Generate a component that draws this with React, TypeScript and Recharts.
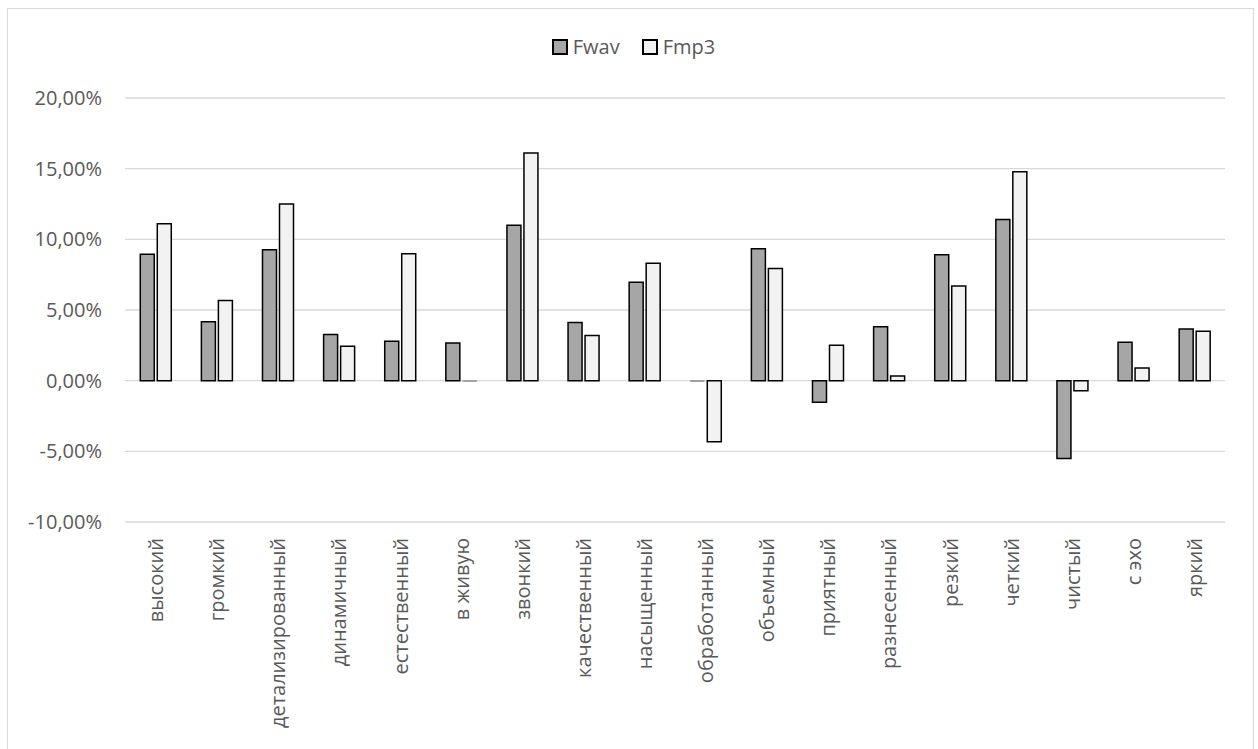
import React from 'react';
import { BarChart, Bar, XAxis, YAxis, CartesianGrid, Legend, Cell } from 'recharts';

const categories = [
  'высокий', 'громкий', 'детализированный', 'динамичный', 'естественный', 'в живую',
  'звонкий', 'качественный', 'насыщенный', 'обработанный', 'объемный', 'приятный',
  'разнесенный', 'резкий', 'четкий', 'чистый', 'с эхо', 'яркий',
];

const fwav = [0.0894, 0.0416, 0.0927, 0.0326, 0.0279, 0.0267, 0.1099, 0.0411, 0.0697, -0.0005, 0.0934, -0.0153, 0.0381, 0.0891, 0.114, -0.055, 0.0272, 0.0365];
const fmp3 = [0.1111, 0.0567, 0.125, 0.0243, 0.0898, -0.0005, 0.161, 0.032, 0.083, -0.0433, 0.0794, 0.0251, 0.0033, 0.0669, 0.1478, -0.0071, 0.009, 0.035];

const yTicks = [-0.1, -0.05, 0, 0.05, 0.1, 0.15, 0.2];

const data = categories.map((c, i) => ({ name: c, Fwav: fwav[i], Fmp3: fmp3[i] }));

const FONT = '"Open Sans", "Liberation Sans", sans-serif';
const TEXT = '#595959';

const fmt = (v: number) => (v * 100).toFixed(2).replace('.', ',') + '%';

const XTick = (props: any) => {
  const { x, y, payload } = props;
  const ty = y + 8;
  return (
    <text
      x={x}
      y={ty}
      transform={`rotate(-90 ${x} ${ty})`}
      textAnchor="end"
      dominantBaseline="central"
      fill={TEXT}
      fontSize={20}
      fontFamily={FONT}
    >
      {payload.value}
    </text>
  );
};

const LegendContent = () => {
  const items = [
    { label: 'Fwav', fill: '#a6a6a6' },
    { label: 'Fmp3', fill: '#f2f2f2' },
  ];
  return (
    <div style={{ display: 'flex', justifyContent: 'center', alignItems: 'center', gap: 22, fontFamily: FONT, fontSize: 20, color: TEXT, paddingLeft: 6 }}>
      {items.map((it) => (
        <div key={it.label} style={{ display: 'flex', alignItems: 'center', gap: 5 }}>
          <span style={{ display: 'inline-block', width: 12, height: 12, background: it.fill, border: '2px solid #000' }} />
          <span>{it.label}</span>
        </div>
      ))}
    </div>
  );
};

const tiny = (v: number) => Math.abs(v) < 0.001;

export default function App() {
  return (
    <div style={{ position: 'absolute', left: 7, top: 8, width: 1245, height: 760, border: '1px solid #d9d9d9', background: '#fff' }}>
      <BarChart
        width={1245}
        height={760}
        data={data}
        margin={{ top: 89, right: 28, bottom: 0, left: 0 }}
        barCategoryGap="25%"
        barGap={3}
      >
        <CartesianGrid vertical={false} stroke="#d9d9d9" strokeWidth={1.3} />
        <XAxis
          dataKey="name"
          interval={0}
          axisLine={false}
          tickLine={false}
          height={247}
          tick={<XTick />}
        />
        <YAxis
          width={117}
          domain={[-0.1, 0.2]}
          ticks={yTicks}
          tickFormatter={fmt}
          axisLine={false}
          tickLine={false}
          tickMargin={17}
          tick={{ fill: TEXT, fontSize: 20, fontFamily: FONT }}
        />
        <Legend
          verticalAlign="top"
          content={<LegendContent />}
          wrapperStyle={{ top: 24, left: 0, width: 1245, height: 0 }}
        />
        <Bar dataKey="Fwav" fill="#a6a6a6" stroke="#000" strokeWidth={1.5} isAnimationActive={false}>
          {fwav.map((v, i) => (
            <Cell key={`w${i}`} stroke={tiny(v) ? '#9a9a9a' : '#000'} strokeWidth={tiny(v) ? 1 : 1.5} />
          ))}
        </Bar>
        <Bar dataKey="Fmp3" fill="#f2f2f2" stroke="#000" strokeWidth={1.5} isAnimationActive={false}>
          {fmp3.map((v, i) => (
            <Cell key={`m${i}`} stroke={tiny(v) ? '#9a9a9a' : '#000'} strokeWidth={tiny(v) ? 1 : 1.5} />
          ))}
        </Bar>
      </BarChart>
    </div>
  );
}
